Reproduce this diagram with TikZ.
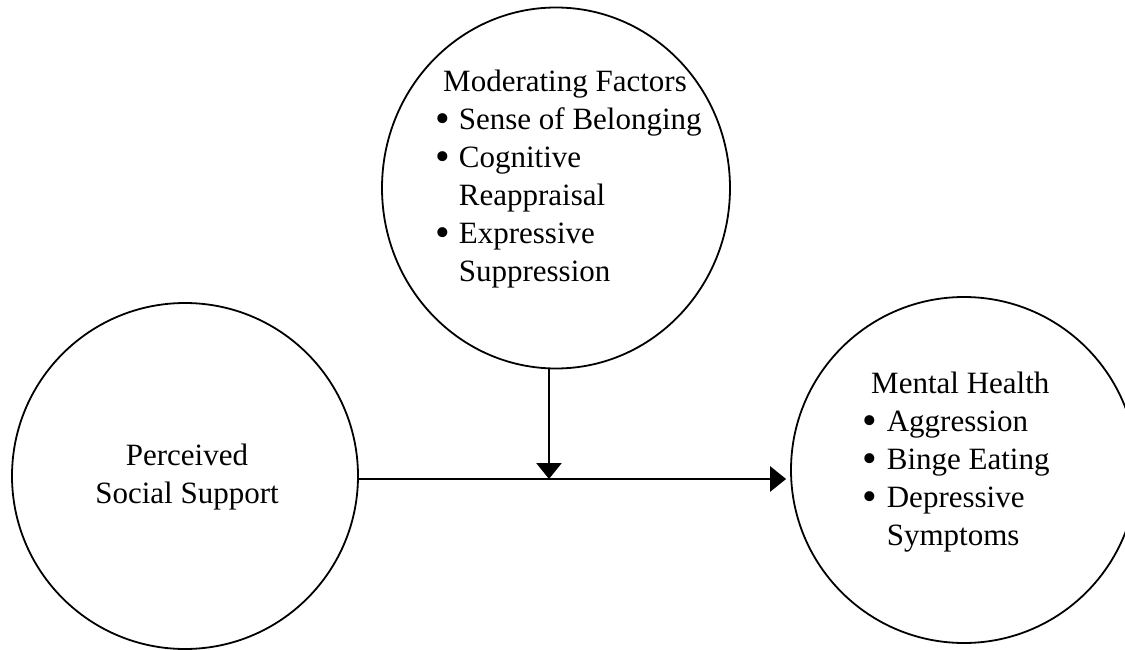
\documentclass[tikz,border=0pt]{standalone}
\usepackage{fontspec}
\setmainfont{Liberation Serif}
\usetikzlibrary{arrows.meta,shapes.geometric}
\newcommand{\dotitem}{\raisebox{-3pt}{\scalebox{1.35}{•}}}

\begin{document}
\begin{tikzpicture}[x=1pt, y=-1pt,
    factor/.style={draw, ellipse, line width=1.8pt, inner sep=0pt},
    bubbletext/.style={inner sep=0pt, font=\fontsize{31}{38}\selectfont},
    link/.style={line width=2.8pt, -{Triangle[width=25pt,length=16pt]}}]
%      \draw [help lines] (0,0) grid [step=50] (1125,650);
      \useasboundingbox (0,0) rectangle (1125,650);

      \node [factor, minimum width=346pt, minimum height=346pt] (support) at (185,476) {};
      \node [factor, minimum width=348pt, minimum height=361pt] (moderator) at (556,188) {};
      \node [factor, minimum width=346pt, minimum height=346pt] (health) at (964,470) {};

      \node [bubbletext, anchor=base] (supporttext) at (187,465) {
        \begin{tabular}[t]{@{}c@{}}
          Perceived \\
          Social Support \\
        \end{tabular} };

      \node [bubbletext, anchor=base west] (moderatortext) at (435,92) {
        \begin{tabular}[t]{@{}l@{\hspace{9pt}}l@{}}
          \multicolumn{2}{@{}l@{}}{\hspace{8pt}Moderating Factors} \\
          \dotitem & Sense of Belonging \\
          \dotitem & Cognitive \\
                   & Reappraisal \\
          \dotitem & Expressive \\
                   & Suppression \\
        \end{tabular} };

      \node [bubbletext, anchor=base west] (healthtext) at (862,393) {
        \begin{tabular}[t]{@{}l@{\hspace{10pt}}l@{}}
          \multicolumn{2}{@{}l@{}}{\hspace{9pt}Mental Health} \\
          \dotitem & Aggression \\
          \dotitem & Binge Eating \\
          \dotitem & Depressive \\
                   & Symptoms \\
        \end{tabular} };

      \coordinate (meet) at (549,479);
      \draw [link] (moderator.south -| meet) -- (meet);
      \draw [link, shorten >=4pt] (support.east |- meet) -- (health.west |- meet);

    \end{tikzpicture}
\end{document}
